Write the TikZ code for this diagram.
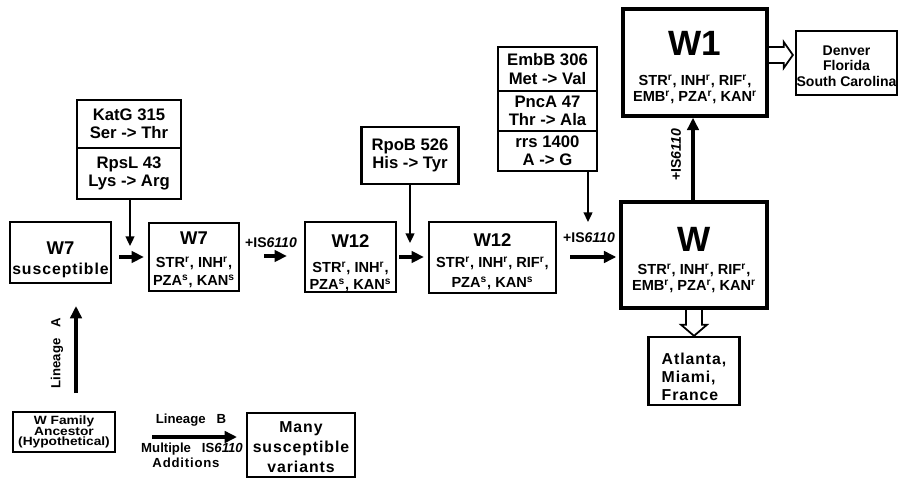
\documentclass[tikz,border=0pt]{standalone}
\usepackage{fontspec}
\setmainfont{Liberation Sans}
\newfontfamily\widefont[LetterSpace=6]{Liberation Sans}
\newfontfamily\broadfont[FakeStretch=1.15]{Liberation Sans}
\usetikzlibrary{arrows.meta}
\usetikzlibrary{calc}

\newcommand{\resist}[1]{#1\textsuperscript{r}}
\newcommand{\suscep}[1]{#1\textsuperscript{s}}
\newcommand{\plusis}{+IS\textit{6110}}
\newcommand{\strain}[1]{{\fontsize{10.5}{12}\selectfont #1}}
\newcommand{\bigstrain}[1]{{\fontsize{20}{22}\selectfont #1}}
\newcommand{\lift}[1]{\rule{0pt}{#1}}
\newcommand{\tightlines}{\lineskiplimit -5pt\lineskip 0pt\relax}

\begin{document}
\begin{tikzpicture}[x=0.02cm, y=-0.02cm,
    box/.style={draw, line width=1.3pt, inner sep=0pt, align=center, font=\bfseries},
    bigbox/.style={box, line width=2pt},
    resfont/.style={font=\bfseries\fontsize{8.3}{9.1}\selectfont},
    mutbox/.style={box, minimum width=2.08cm, font=\bfseries\fontsize{9.5}{10.5}\selectfont},
    embbox/.style={box, minimum width=1.98cm, font=\bfseries\fontsize{9.5}{10.5}\selectfont},
    lab/.style={font=\bfseries\fontsize{8}{9}\selectfont, inner sep=0pt},
    flowarrow/.style={line width=2pt, -{Triangle[length=7pt,width=6.5pt]}},
    mutarrow/.style={line width=1.1pt, -{Triangle[length=5.5pt,width=5pt]}},
    popsarrow/.style={line width=1pt, line join=miter}]
  \useasboundingbox (0,0) rectangle (898,479);

  % Mutation boxes
  \node[mutbox, minimum height=0.96cm] (katg) at (129,124) {KatG 315\\Ser -> Thr};
  \node[mutbox, minimum height=1.02cm] (rpsl) at (129,173.5) {RpsL 43\\Lys -> Arg};
  \node[mutbox, minimum width=1.94cm, minimum height=1.14cm] (rpob) at (410,155.5) {RpoB 526\\His -> Tyr};
  \node[embbox, minimum height=0.88cm] (embb) at (547.5,69) {EmbB 306\\Met -> Val};
  \node[embbox, minimum height=0.8cm] (pnca) at (547.5,111) {PncA 47\\Thr -> Ala};
  \node[embbox, minimum height=0.8cm] (rrs) at (547.5,151) {rrs 1400\\A -> G};

  % Strain boxes
  \node[box, minimum width=2.02cm, minimum height=1.22cm, font=\widefont\bfseries\fontsize{9}{11}\selectfont] (w7s) at (60.5,252.5)
    {\lift{15.5pt}\strain{\normalfont\bfseries W7}\\[0.5pt] susceptible};
  \node[box, resfont, minimum width=1.8cm, minimum height=1.36cm] (w7r) at (194,257)
    {\lift{10.5pt}\strain{W7}\\[4pt] \resist{STR}, \resist{INH},\\[1.5pt] \suscep{PZA}, \suscep{KAN}};
  \node[box, resfont, minimum width=1.82cm, minimum height=1.36cm] (w12) at (350.5,257)
    {\lift{14.4pt}\strain{W12}\\[5pt] \resist{STR}, \resist{INH},\\[1pt] \suscep{PZA}, \suscep{KAN}};
  \node[box, resfont, minimum width=2.54cm, minimum height=1.42cm] (w12r) at (492.5,257.5)
    {\lift{12pt}\strain{W12}\\[3pt] \resist{STR}, \resist{INH}, \resist{RIF},\\[2pt] \suscep{PZA}, \suscep{KAN}};
  \node[bigbox, resfont, minimum width=2.92cm, minimum height=2.12cm] (w) at (694,255)
    {\lift{20pt}\bigstrain{W}\\[4pt] \resist{STR}, \resist{INH}, \resist{RIF},\\ \resist{EMB}, \resist{PZA}, \resist{KAN}};
  \node[bigbox, resfont, minimum width=2.88cm, minimum height=2.14cm] (w1) at (695,62.5)
    {\lift{19pt}\bigstrain{W1}\\[8pt] \resist{STR}, \resist{INH}, \resist{RIF},\\ \resist{EMB}, \resist{PZA}, \resist{KAN}};

  % Places
  \node[box, minimum width=2.02cm, minimum height=1.28cm, font=\bfseries\fontsize{8}{8.6}\selectfont] (den) at (846.5,63)
    {\lift{9.1pt}Denver\\Florida\\South Carolina};
  \node[box, minimum width=1.82cm, minimum height=1.36cm, align=left, font=\widefont\bfseries\fontsize{9}{10.2}\selectfont] (atl) at (694,371)
    {\lift{13.3pt}Atlanta,\\Miami,\\France};

  % Ancestor and variants
  \node[box, minimum width=2.04cm, minimum height=0.8cm, font=\broadfont\bfseries\fontsize{6.8}{6.2}\selectfont\tightlines] (anc) at (64,432)
    {W Family\\Ancestor\\(Hypothetical)};
  \node[box, minimum width=2.16cm, minimum height=1.28cm, font=\widefont\bfseries\fontsize{9}{11.4}\selectfont] (many) at (301,445)
    {\lift{8.8pt}Many\\susceptible\\variants};

  % Arrows from the mutations
  \coordinate (j1) at (130,246);
  \coordinate (j2) at (410,243);
  \coordinate (j3) at (588,222);
  \draw[mutarrow] (rpsl.south -| j1) -- (j1);
  \draw[mutarrow] (rpob.south) -- (j2);
  \draw[mutarrow] (rrs.south -| j3) -- (j3);

  % Main line of strains
  \draw[flowarrow] ($(w7s.east)+(7,4.5)$) -- ($(w7r.west)+(-4,0)$);
  \draw[flowarrow] ($(w7r.east)+(24,-1)$) -- ($(w12.west)+(-17,-1)$);
  \node[lab] (ins1) at (271,243) {\plusis};
  \draw[flowarrow] ($(w12.east)+(2,0)$) -- ($(w12r.west)+(-4,-0.5)$);
  \draw[flowarrow] ($(w12r.east)+(13,-0.5)$) -- ($(w.west)+(-3,2)$);
  \node[lab] (ins2) at (589,238) {\plusis};
  \draw[flowarrow] ($(w.north)+(-1,0)$) -- ($(w1.south)+(-2,0)$);
  \node[lab, rotate=90] (ins3) at (676,155) {\plusis};

  % Spread of the strains
  \draw[popsarrow] ($(w.south)+(-8,0)$) -- ++(0,15) -- ++(-5,0) -- (atl.north)
    -- ($(w.south)+(13,15)$) -- ++(-5,0) -- ++(0,-15);
  \draw[popsarrow] ($(w1.east)+(0,-15.5)$) -- ++(15,0) -- ++(0,-5) -- ($(den.west)+(-2,-8)$)
    -- ($(w1.east)+(15,5.5)$) -- ++(0,-5) -- ($(w1.east)+(0,0.5)$);

  % Lineages
  \coordinate (la0) at (76,393);
  \coordinate (la1) at (76,306);
  \draw[flowarrow] (la0) -- (la1);
  \node[lab, rotate=90, font=\bfseries\fontsize{7.5}{9}\selectfont] (lina) at (57,353) {Lineage\ \ \ A};
  \coordinate (lb0) at (152,437);
  \coordinate (lb1) at (237,437);
  \draw[flowarrow] (lb0) -- (lb1);
  \node[lab, font=\bfseries\fontsize{7.5}{9}\selectfont] (linb) at (191,420) {Lineage\ \ \ B};
  \node[lab, font=\bfseries\fontsize{7.5}{9}\selectfont] (mult) at (192,449) {Multiple\ \ \ IS\textit{6110}};
  \node[lab, font=\widefont\bfseries\fontsize{7.5}{9}\selectfont] (addi) at (186,463) {Additions};
\end{tikzpicture}
\end{document}
